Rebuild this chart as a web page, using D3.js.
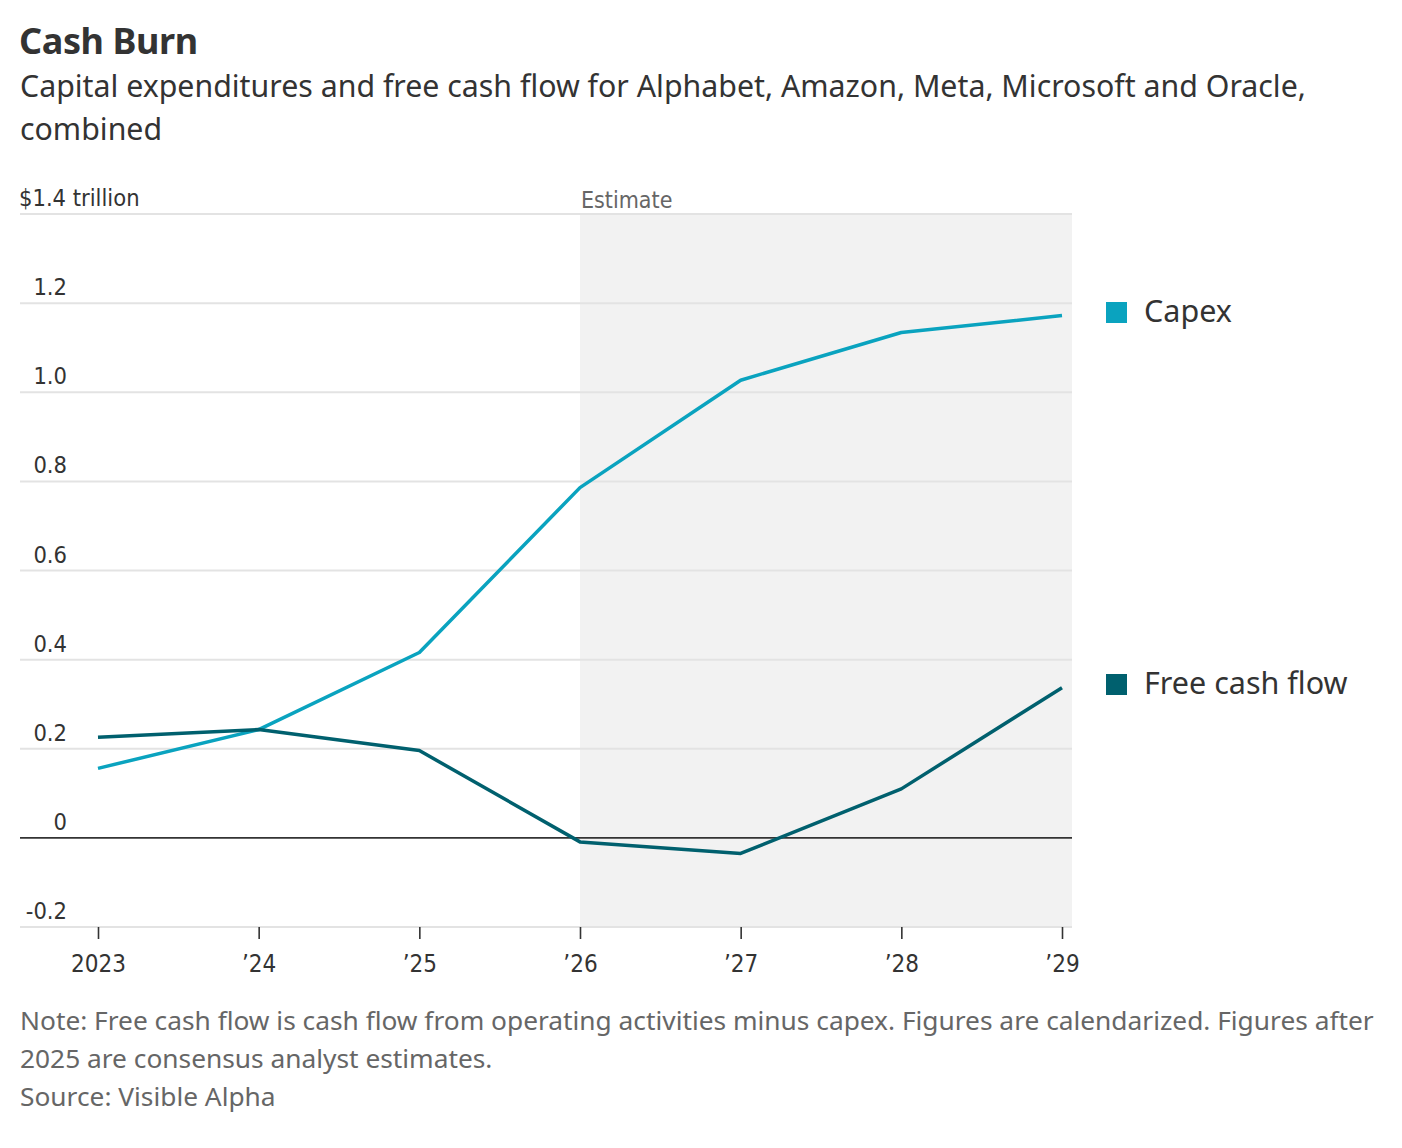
<!DOCTYPE html>
<html>
<head>
<meta charset="utf-8">
<script src="https://cdn.jsdelivr.net/npm/d3@7"></script>
<style>
  html, body { margin: 0; padding: 0; background: #fff; }
  svg { display: block; }
  .narrow { font-family: "Liberation Sans Narrow", "DejaVu Sans Condensed", "Roboto Condensed", "Arial Narrow", sans-serif; }
  .wide { font-family: "Noto Sans", Lato, sans-serif; }
</style>
</head>
<body>
<svg id="chart" width="1402" height="1148"></svg>
<script>
// ---- data ----
const years = [2023, 2024, 2025, 2026, 2027, 2028, 2029];
const yearLabels = ["2023", "\u201924", "\u201925", "\u201926", "\u201927", "\u201928", "\u201929"];
const capex = [0.156, 0.243, 0.416, 0.786, 1.027, 1.134, 1.172];
const freeCashFlow = [0.226, 0.243, 0.196, -0.009, -0.035, 0.110, 0.337];
const yTicks = [-0.2, 0, 0.2, 0.4, 0.6, 0.8, 1.0, 1.2, 1.4];
const yTickLabels = ["-0.2", "0", "0.2", "0.4", "0.6", "0.8", "1.0", "1.2", "$1.4 trillion"];
const estimateStart = 2026;
const seriesNames = ["Capex", "Free cash flow"];
const seriesColors = ["#0aa3bf", "#00606e"];

const svg = d3.select("#chart");

const plotLeft = 20, plotRight = 1072;
const x = d3.scaleLinear().domain([2023, 2029]).range([98, 1062]);
const y = d3.scaleLinear().domain([-0.2, 1.4]).range([927, 214]);

// title
svg.append("text").attr("class", "wide").attr("x", 19).attr("y", 54)
  .attr("font-size", 36).attr("font-weight", 700).attr("fill", "#333")
  .attr("letter-spacing", -0.4)
  .text("Cash Burn");
const sub = ["Capital expenditures and free cash flow for Alphabet, Amazon, Meta, Microsoft and Oracle,", "combined"];
sub.forEach((s, i) => {
  svg.append("text").attr("class", "wide").attr("x", 20).attr("y", 97 + i * 43)
    .attr("font-size", 30.3).attr("fill", "#333").text(s);
});

// estimate shading
svg.append("rect")
  .attr("x", x(estimateStart)).attr("y", y(1.4))
  .attr("width", plotRight - x(estimateStart)).attr("height", y(-0.2) - y(1.4))
  .attr("fill", "#f2f2f2");
svg.append("text").attr("class", "narrow").attr("x", x(estimateStart) + 1).attr("y", 208)
  .attr("font-size", 23).attr("fill", "#666").text("Estimate");

// gridlines
svg.append("g").selectAll("line").data(yTicks.filter(d => d !== 0)).join("line")
  .attr("x1", plotLeft).attr("x2", plotRight)
  .attr("y1", d => y(d)).attr("y2", d => y(d))
  .attr("stroke", "#e3e3e3").attr("stroke-width", 2);

// y labels
svg.append("g").selectAll("text").data(yTicks).join("text")
  .attr("class", "narrow")
  .attr("x", (d, i) => i === yTicks.length - 1 ? 19 : 67)
  .attr("y", d => y(d) - 8)
  .attr("text-anchor", (d, i) => i === yTicks.length - 1 ? "start" : "end")
  .attr("font-size", 23.5).attr("fill", "#333")
  .text((d, i) => yTickLabels[i]);

// zero line
svg.append("line").attr("x1", plotLeft).attr("x2", plotRight)
  .attr("y1", y(0)).attr("y2", y(0)).attr("stroke", "#333").attr("stroke-width", 1.6);

// x axis ticks
const xAxis = d3.axisBottom(x).tickValues(years).tickSize(12).tickPadding(10)
  .tickFormat((d, i) => yearLabels[i]);
const gx = svg.append("g").attr("transform", `translate(0,${y(-0.2)})`).call(xAxis);
gx.select(".domain").remove();
gx.selectAll(".tick line").attr("stroke", "#333").attr("stroke-width", 1.6);
gx.selectAll(".tick text").attr("class", "narrow").attr("font-size", 24).attr("fill", "#333")
  .attr("dy", "0.95em");

// lines
const line = d3.line().x((d, i) => x(years[i])).y(d => y(d));
[capex, freeCashFlow].forEach((s, k) => {
  svg.append("path").datum(s).attr("d", line)
    .attr("fill", "none").attr("stroke", seriesColors[k]).attr("stroke-width", 3.5)
    .attr("stroke-linejoin", "round");
});

// legend
[312, 684].forEach((ly, k) => {
  svg.append("rect").attr("x", 1106).attr("y", ly - 10).attr("width", 21).attr("height", 21)
    .attr("fill", seriesColors[k]);
  svg.append("text").attr("class", "wide").attr("x", 1144).attr("y", ly + 10)
    .attr("font-size", 30.5).attr("fill", "#333").text(seriesNames[k]);
});

// notes
const notes = [
  "Note: Free cash flow is cash flow from operating activities minus capex. Figures are calendarized. Figures after",
  "2025 are consensus analyst estimates.",
  "Source: Visible Alpha"
];
notes.forEach((s, i) => {
  svg.append("text").attr("class", "wide").attr("x", 20).attr("y", 1030 + i * 38)
    .attr("font-size", 26.3).attr("fill", "#666").text(s);
});
</script>
</body>
</html>
